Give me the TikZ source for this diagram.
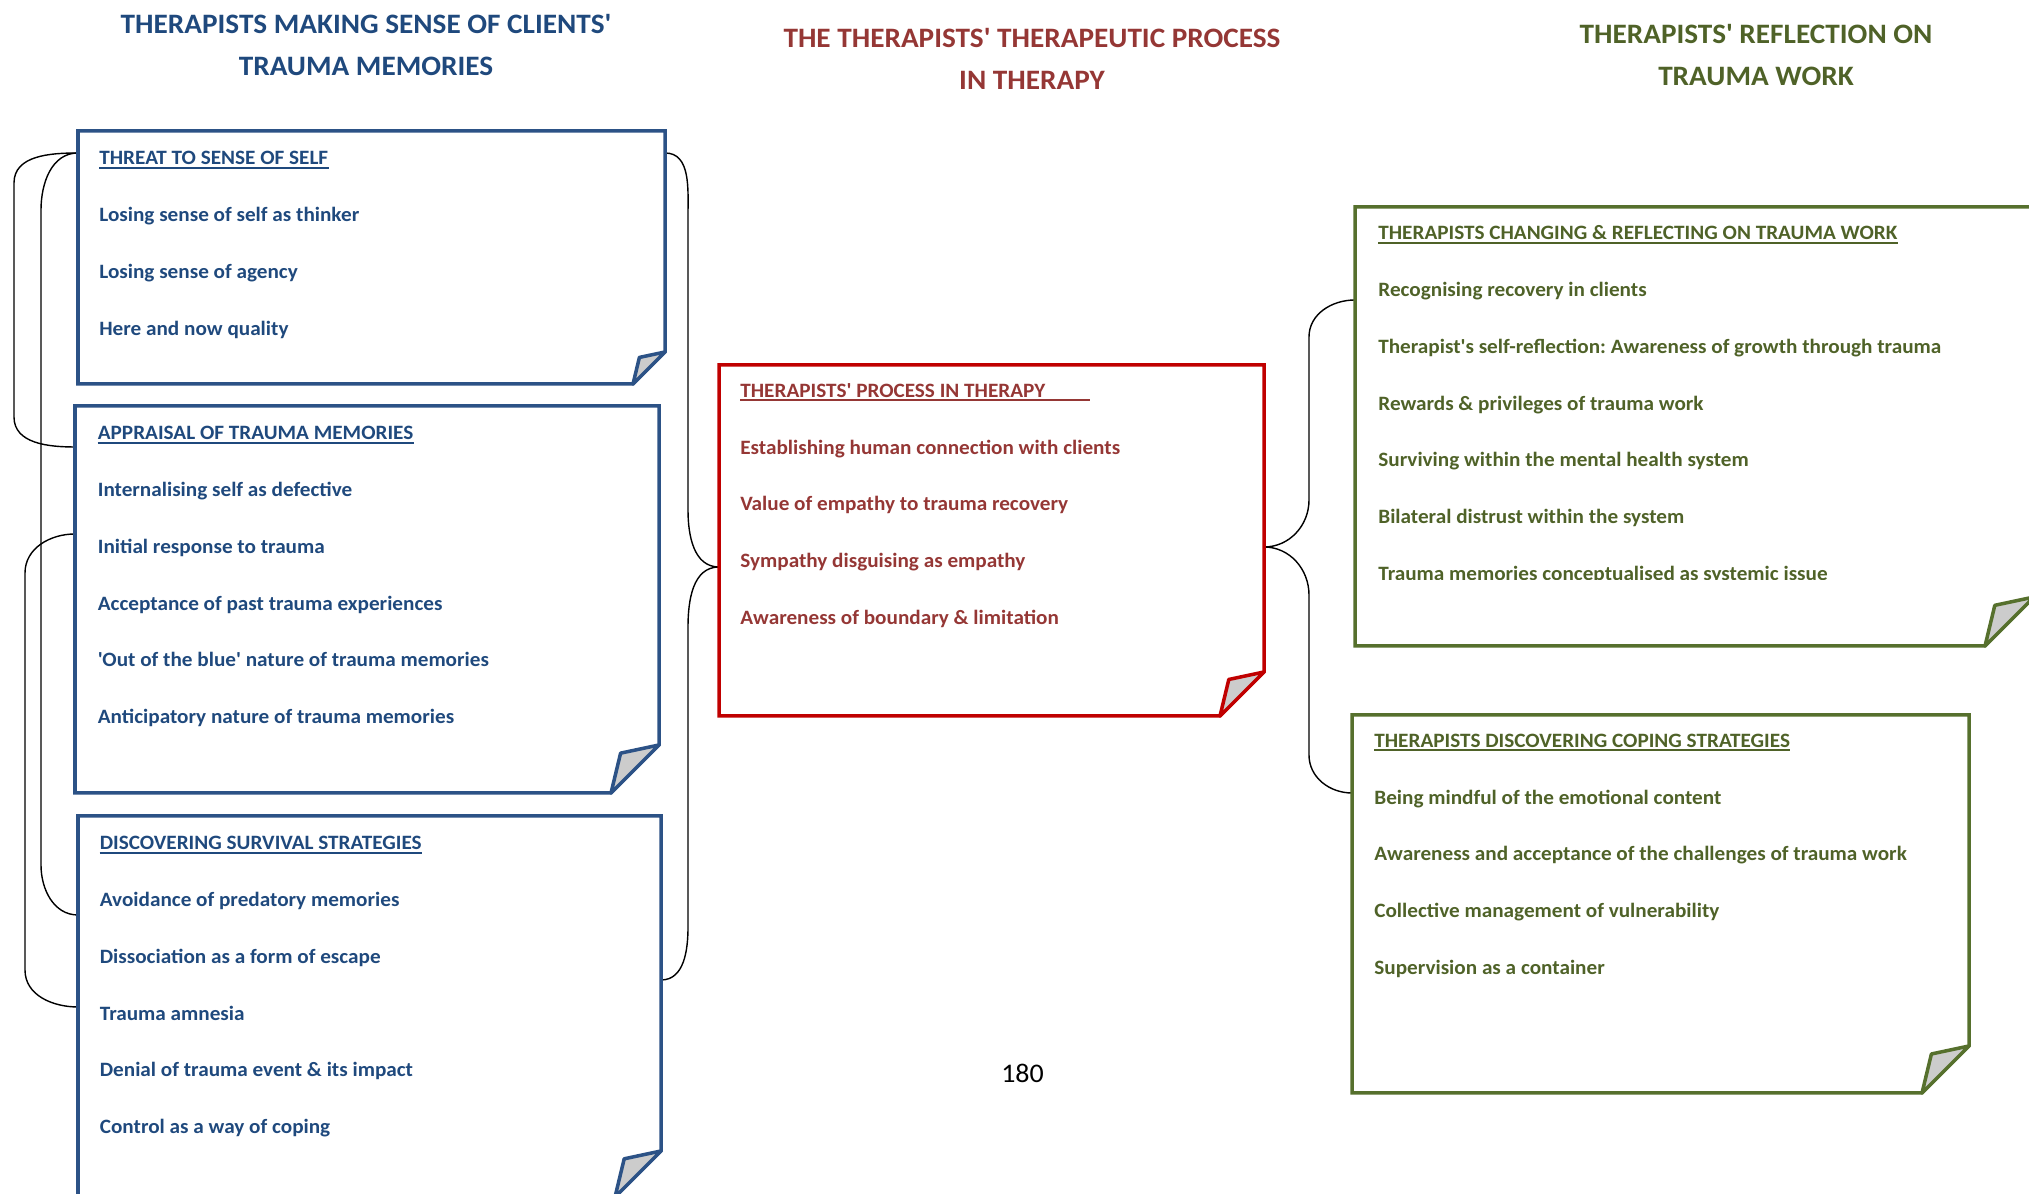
\documentclass[tikz,border=0pt]{standalone}
\usepackage{fontspec}
\setmainfont{Carlito}[Ligatures=TeXOff, FakeStretch=1.04]
\usepackage{tikz}
\frenchspacing

\definecolor{blueTxt}{HTML}{1F497D}
\definecolor{blueLine}{HTML}{2C5286}
\definecolor{redTxt}{HTML}{953735}
\definecolor{redLine}{HTML}{C00000}
\definecolor{greenTxt}{HTML}{4F6228}
\definecolor{greenLine}{HTML}{56702D}

% box outline with the dog-eared corner bottom right
\newcommand{\foldbox}[3]{%
	\draw[#3, line width=2pt] (#1.north west) -- (#1.north east)
		-- ([yshift=#2]#1.south east) -- ([xshift=-#2]#1.south east)
		-- (#1.south west) -- cycle;
	\filldraw[#3, fill=black!20, line width=2pt, line join=round] ([xshift=-#2]#1.south east)
		-- ([xshift=-0.8*#2, yshift=0.83*#2]#1.south east) -- ([yshift=#2]#1.south east) -- cycle;
}

\begin{document}
\begin{tikzpicture}
\tikzset{
	box/.style 2 args={rectangle, anchor=north west, inner sep=0pt, outer sep=0pt,
		minimum width=#1, minimum height=#2},
	item/.style={anchor=base west, inner sep=0pt, font=\fontsize{11.6}{14}\selectfont\bfseries},
	head/.style={anchor=north, align=center, inner sep=0pt, font=\fontsize{16}{23.9}\selectfont\bfseries},
	curly/.style={draw=black, line width=0.8pt},
}
\useasboundingbox (0,0) rectangle (40.58,23.88);

\node[head, text=blueTxt] (LEFTHEAD) at (7.32,23.60) {THERAPISTS MAKING SENSE OF CLIENTS'\\TRAUMA MEMORIES};
\node[head, text=redTxt] (MIDHEAD) at (20.64,23.32) {THE THERAPISTS' THERAPEUTIC PROCESS\\IN THERAPY};
\node[head, text=greenTxt] (RIGHTHEAD) at (35.12,23.40) {THERAPISTS' REFLECTION ON\\TRAUMA WORK};

\node[box={11.74cm}{5.06cm}] (THREAT) at (1.56,21.26) {};
\node[box={11.68cm}{7.74cm}] (APPRAISAL) at (1.50,15.76) {};
\node[box={11.66cm}{7.62cm}] (SURVIVAL) at (1.56,7.56) {};
\node[box={10.90cm}{7.02cm}] (PROCESS) at (14.38,16.58) {};
\node[box={13.58cm}{8.78cm}] (CHANGING) at (27.10,19.74) {};
\node[box={12.34cm}{7.56cm}] (COPING) at (27.04,9.58) {};

% brackets on the left
\draw[curly] ([yshift=-4.4mm]THREAT.north west) to[out=180,in=90] (0.28,20.22) -- (0.28,15.54)
	to[out=-90,in=180] ([yshift=-8.2mm]APPRAISAL.north west);
\draw[curly] ([yshift=-4.4mm]THREAT.north west) to[out=180,in=90] (0.82,19.68) -- (0.82,6.58)
	to[out=-90,in=180] ([yshift=-19.8mm]SURVIVAL.north west);
\draw[curly] ([yshift=-25.6mm]APPRAISAL.north west) to[out=180,in=90] (0.50,12.42) -- (0.50,4.48)
	to[out=-90,in=180] ([yshift=-38.2mm]SURVIVAL.north west);

% braces into and out of the therapy process
\draw[curly] ([yshift=-4.4mm]THREAT.north east) to[out=0,in=90] (13.76,19.58) -- (13.76,13.68)
	to[out=-90,in=180] ([yshift=-40.4mm]PROCESS.north west)
	to[out=180,in=90] (13.76,11.34) -- (13.76,5.34)
	to[out=-90,in=0] ([yshift=-32.8mm]SURVIVAL.north east);
\draw[curly] ([yshift=-18.6mm]CHANGING.north west) to[out=180,in=90] (26.18,17.14) -- (26.18,13.88)
	to[out=-90,in=0] ([yshift=-36.4mm]PROCESS.north east)
	to[out=0,in=90] (26.18,11.98) -- (26.18,8.78)
	to[out=-90,in=180] ([yshift=-15.6mm]COPING.north west);

\foldbox{THREAT}{6.4mm}{blueLine}
\foldbox{APPRAISAL}{9.6mm}{blueLine}
\foldbox{SURVIVAL}{9.2mm}{blueLine}
\foldbox{PROCESS}{8.8mm}{redLine}
\foldbox{CHANGING}{9.8mm}{greenLine}
\foldbox{COPING}{9.4mm}{greenLine}

% left column
\node[item, text=blueTxt] (THREAT-T) at (1.98,20.58) {THREAT TO SENSE OF SELF};
\foreach \txt [count=\i] in {Losing sense of self as thinker, Losing sense of agency, Here and now quality}
	\node[item, text=blueTxt] (THREAT-\i) at (1.98,20.58-1.134*\i) {\txt};

\node[item, text=blueTxt] (APPRAISAL-T) at (1.95,15.08) {APPRAISAL OF TRAUMA MEMORIES};
\foreach \txt [count=\i] in {Internalising self as defective, Initial response to trauma,
		Acceptance of past trauma experiences, 'Out of the blue' nature of trauma memories,
		Anticipatory nature of trauma memories}
	\node[item, text=blueTxt] (APPRAISAL-\i) at (1.95,15.08-1.134*\i) {\txt};

\node[item, text=blueTxt] (SURVIVAL-T) at (1.99,6.88) {DISCOVERING SURVIVAL STRATEGIES};
\foreach \txt [count=\i] in {Avoidance of predatory memories, Dissociation as a form of escape,
		Trauma amnesia, Denial of trauma event \& its impact, Control as a way of coping}
	\node[item, text=blueTxt] (SURVIVAL-\i) at (1.99,6.88-1.134*\i) {\txt};

% middle
\node[item, text=redTxt] (PROCESS-T) at (14.80,15.93) {THERAPISTS' PROCESS IN THERAPY\hspace{0.89cm}\null};
\foreach \txt [count=\i] in {Establishing human connection with clients, Value of empathy to trauma recovery,
		Sympathy disguising as empathy, Awareness of boundary \& limitation}
	\node[item, text=redTxt] (PROCESS-\i) at (14.80,15.93-1.134*\i) {\txt};

% right column, last line runs out of its text frame
\begin{scope}
\clip (27.2,12.28) rectangle (40.5,20);
\node[item, text=greenTxt] (CHANGING-T) at (27.56,19.08) {THERAPISTS CHANGING \& REFLECTING ON TRAUMA WORK};
\foreach \txt [count=\i] in {Recognising recovery in clients,
		Therapist's self-reflection: Awareness of growth through trauma,
		Rewards \& privileges of trauma work, Surviving within the mental health system,
		Bilateral distrust within the system, Trauma memories conceptualised as systemic issue}
	\node[item, text=greenTxt] (CHANGING-\i) at (27.56,19.08-1.134*\i) {\txt};
\end{scope}

\node[item, text=greenTxt] (COPING-T) at (27.48,8.93) {THERAPISTS DISCOVERING COPING STRATEGIES};
\foreach \txt [count=\i] in {Being mindful of the emotional content,
		Awareness and acceptance of the challenges of trauma work,
		Collective management of vulnerability, Supervision as a container}
	\node[item, text=greenTxt] (COPING-\i) at (27.48,8.93-1.134*\i) {\txt};

% underlined box titles
\foreach \n/\c in {THREAT/blueTxt, APPRAISAL/blueTxt, SURVIVAL/blueTxt, PROCESS/redTxt, CHANGING/greenTxt, COPING/greenTxt}
	\draw[\c, line width=1pt] ([yshift=-1.6pt]\n-T.base west) -- ([yshift=-1.6pt]\n-T.base east);

\node[anchor=base, inner sep=0pt, font=\fontsize{15.3}{18}\selectfont] (PAGENO) at (20.45,2.22) {180};

\end{tikzpicture}
\end{document}
